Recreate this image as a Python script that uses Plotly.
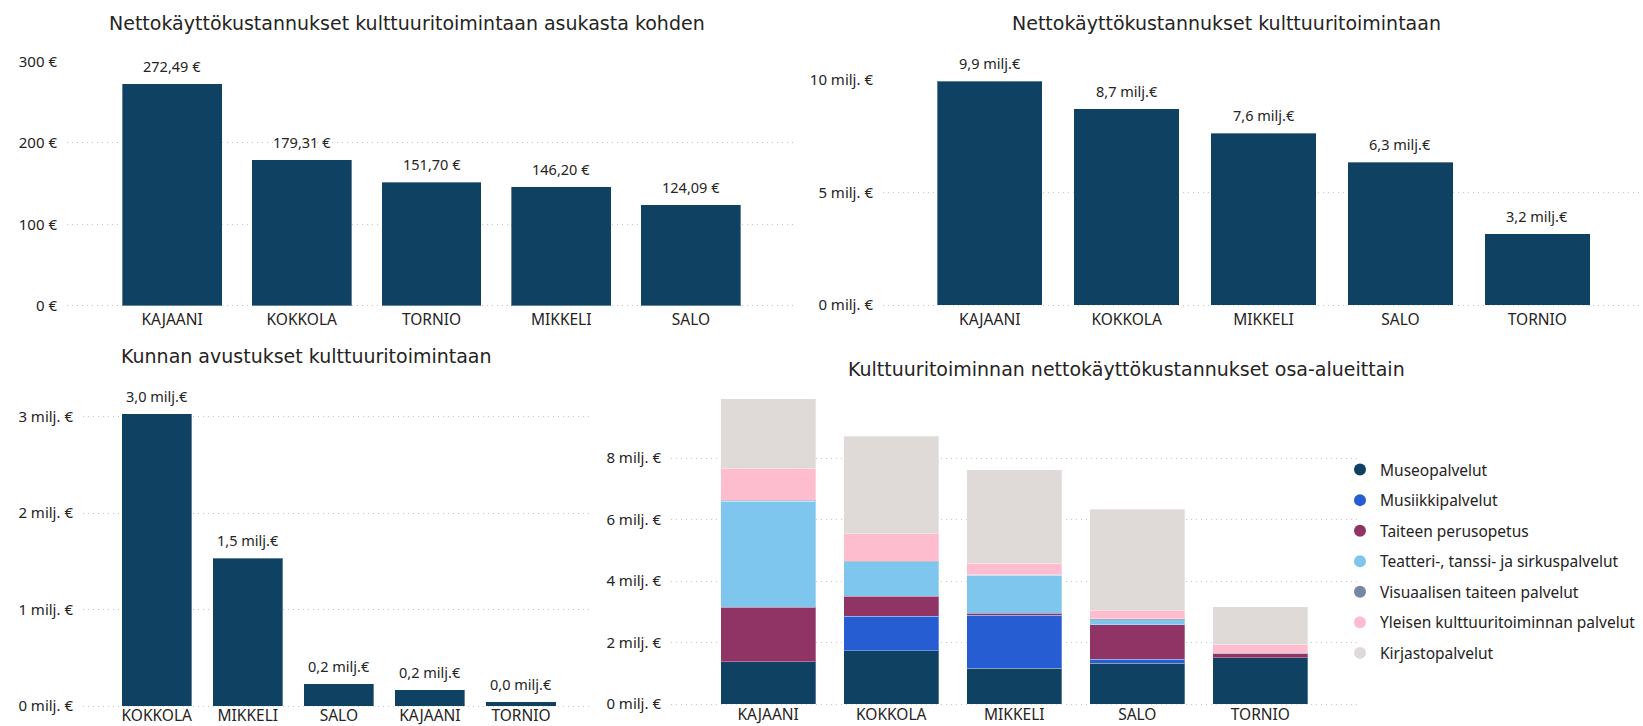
import plotly.graph_objects as go

W, H = 1643, 726

# ---------------- data ----------------
c1_cities = ["KAJAANI", "KOKKOLA", "TORNIO", "MIKKELI", "SALO"]
c1_values = [272.49, 179.31, 151.70, 146.20, 124.09]
c1_labels = ["272,49 €", "179,31 €", "151,70 €", "146,20 €", "124,09 €"]
c1_ticks = [0, 100, 200, 300]
c1_ticktext = ["0 €", "100 €", "200 €", "300 €"]

c2_cities = ["KAJAANI", "KOKKOLA", "MIKKELI", "SALO", "TORNIO"]
c2_values = [9.93, 8.70, 7.61, 6.34, 3.17]
c2_labels = ["9,9 milj.€", "8,7 milj.€", "7,6 milj.€", "6,3 milj.€", "3,2 milj.€"]
c2_ticks = [0, 5, 10]
c2_ticktext = ["0 milj. €", "5 milj. €", "10 milj. €"]

c3_cities = ["KOKKOLA", "MIKKELI", "SALO", "KAJAANI", "TORNIO"]
c3_values = [3.03, 1.53, 0.23, 0.17, 0.045]
c3_labels = ["3,0 milj.€", "1,5 milj.€", "0,2 milj.€", "0,2 milj.€", "0,0 milj.€"]
c3_ticks = [0, 1, 2, 3]
c3_ticktext = ["0 milj. €", "1 milj. €", "2 milj. €", "3 milj. €"]

c4_cities = ["KAJAANI", "KOKKOLA", "MIKKELI", "SALO", "TORNIO"]
museo = [1.38, 1.74, 1.17, 1.32, 1.51]
musiikki = [0.0, 1.11, 1.72, 0.14, 0.0]
taiteen = [1.77, 0.66, 0.06, 1.11, 0.12]
teatteri = [3.45, 1.11, 1.24, 0.17, 0.01]
visuaalinen = [0.02, 0.02, 0.01, 0.03, 0.01]
yleinen = [1.05, 0.90, 0.37, 0.28, 0.30]
kirjasto = [2.26, 3.16, 3.04, 3.29, 1.22]
c4_series = [
    ("Museopalvelut", museo, "#0F4163"),
    ("Musiikkipalvelut", musiikki, "#265DD2"),
    ("Taiteen perusopetus", taiteen, "#903465"),
    ("Teatteri-, tanssi- ja sirkuspalvelut", teatteri, "#7EC6EE"),
    ("Visuaalisen taiteen palvelut", visuaalinen, "#74889E"),
    ("Yleisen kulttuuritoiminnan palvelut", yleinen, "#FDBDCF"),
    ("Kirjastopalvelut", kirjasto, "#DFDAD7"),
]
c4_ticks = [0, 2, 4, 6, 8]
c4_ticktext = ["0 milj. €", "2 milj. €", "4 milj. €", "6 milj. €", "8 milj. €"]

titles = [
    "Nettokäyttökustannukset kulttuuritoimintaan asukasta kohden",
    "Nettokäyttökustannukset kulttuuritoimintaan",
    "Kunnan avustukset kulttuuritoimintaan",
    "Kulttuuritoiminnan nettokäyttökustannukset osa-alueittain",
]

# ---------------- styles ----------------
NAVY = "#0F4163"
TXT = "#252423"
TITLEF = "DejaVu Sans, Open Sans, sans-serif"
SEG = "Noto Sans, Open Sans, sans-serif"
GRID = "#C4C4C4"


def xd(a, b):
    return [a / W, b / W]


def yaxis_spec(zero_px, ref_px, ref_val, top_val, tv, tt, pad=3):
    ppu = (zero_px - ref_px) / ref_val
    top_px = zero_px - top_val * ppu
    bottom_px = zero_px + pad
    return dict(domain=[1 - bottom_px / H, 1 - top_px / H], range=[-pad / ppu, top_val],
                tickvals=tv, ticktext=tt, showgrid=True, gridcolor=GRID,
                griddash="1px,4px", gridwidth=1, zeroline=False, showline=False, ticks="",
                tickfont=dict(family=SEG, size=15, color=TXT), ticklabelstandoff=9,
                automargin=False, fixedrange=True)


fig = go.Figure()

bar_line = dict(width=1, color="rgba(255,255,255,0.35)")
lbl_font = dict(family=SEG, size=14.5, color=TXT)

annotations = []
for cities, vals, labels, ax in [(c1_cities, c1_values, c1_labels, ""),
                                 (c2_cities, c2_values, c2_labels, "2"),
                                 (c3_cities, c3_values, c3_labels, "3")]:
    fig.add_trace(go.Bar(x=cities, y=vals, marker=dict(color=NAVY, line=bar_line),
                         showlegend=False, xaxis="x" + ax, yaxis="y" + ax))
    for c, v, t in zip(cities, vals, labels):
        annotations.append(dict(x=c, y=v, text=t, xref="x" + ax, yref="y" + ax, showarrow=False,
                                xanchor="center", yanchor="bottom", yshift=6, font=lbl_font))

for name, vals, col in c4_series:
    fig.add_trace(go.Bar(x=c4_cities, y=vals, name=name,
                         marker=dict(color=col, line=dict(width=1, color="rgba(255,255,255,0.3)")),
                         showlegend=False, xaxis="x4", yaxis="y4"))
for i, (name, vals, col) in enumerate(c4_series):
    fig.add_trace(go.Scatter(x=[None], y=[None], mode="markers", name=name,
                             marker=dict(symbol="circle", size=12, color=col),
                             legendgroup=str(i), showlegend=True, xaxis="x4", yaxis="y4"))

title_pos = [(407, 23), (1226, 23), (306, 356), (1126, 369)]
for t, (px, py) in zip(titles, title_pos):
    annotations.append(dict(text=t, x=px / W, y=1 - py / H, xref="paper", yref="paper",
                            showarrow=False, xanchor="center", yanchor="middle",
                            font=dict(family=TITLEF, size=19, color=TXT)))


def xcommon(standoff=0):
    return dict(showgrid=False, zeroline=False, showline=False, ticks="", automargin=False,
                tickfont=dict(family=SEG, size=15.5, color=TXT), fixedrange=True,
                ticklabelstandoff=standoff)


fig.update_layout(
    template="none",
    width=W, height=H, margin=dict(l=0, r=0, t=0, b=0, autoexpand=False),
    paper_bgcolor="white", plot_bgcolor="white",
    barmode="stack", bargap=0.23,
    xaxis=dict(domain=xd(67, 796), range=[-0.81, 4.81], anchor="y", **xcommon()),
    yaxis=dict(anchor="x", **yaxis_spec(305.7, 61.5, 300, 300, c1_ticks, c1_ticktext)),
    xaxis2=dict(domain=xd(883, 1640), range=[-0.78, 4.75], anchor="y2", **xcommon()),
    yaxis2=dict(anchor="x2", **yaxis_spec(305, 79.5, 10, 10, c2_ticks, c2_ticktext)),
    xaxis3=dict(domain=xd(83, 592), range=[-0.81, 4.78], anchor="y3", **xcommon(-5)),
    yaxis3=dict(anchor="x3", **yaxis_spec(706, 416.5, 3, 3.1, c3_ticks, c3_ticktext)),
    xaxis4=dict(domain=xd(671, 1360), range=[-0.79, 4.81], anchor="y4", **xcommon(-4)),
    yaxis4=dict(anchor="x4", **yaxis_spec(704, 458, 8, 10, c4_ticks, c4_ticktext)),
    legend=dict(x=1340 / W, y=1 - 453 / H, xanchor="left", yanchor="top",
                font=dict(family=SEG, size=15.5, color=TXT), tracegroupgap=7.4,
                itemwidth=30, bgcolor="rgba(0,0,0,0)"),
    annotations=annotations,
)

fig.write_html("out.html", config={"displayModeBar": False},
               post_script="document.body.style.margin='0';document.body.style.overflow='hidden';")
